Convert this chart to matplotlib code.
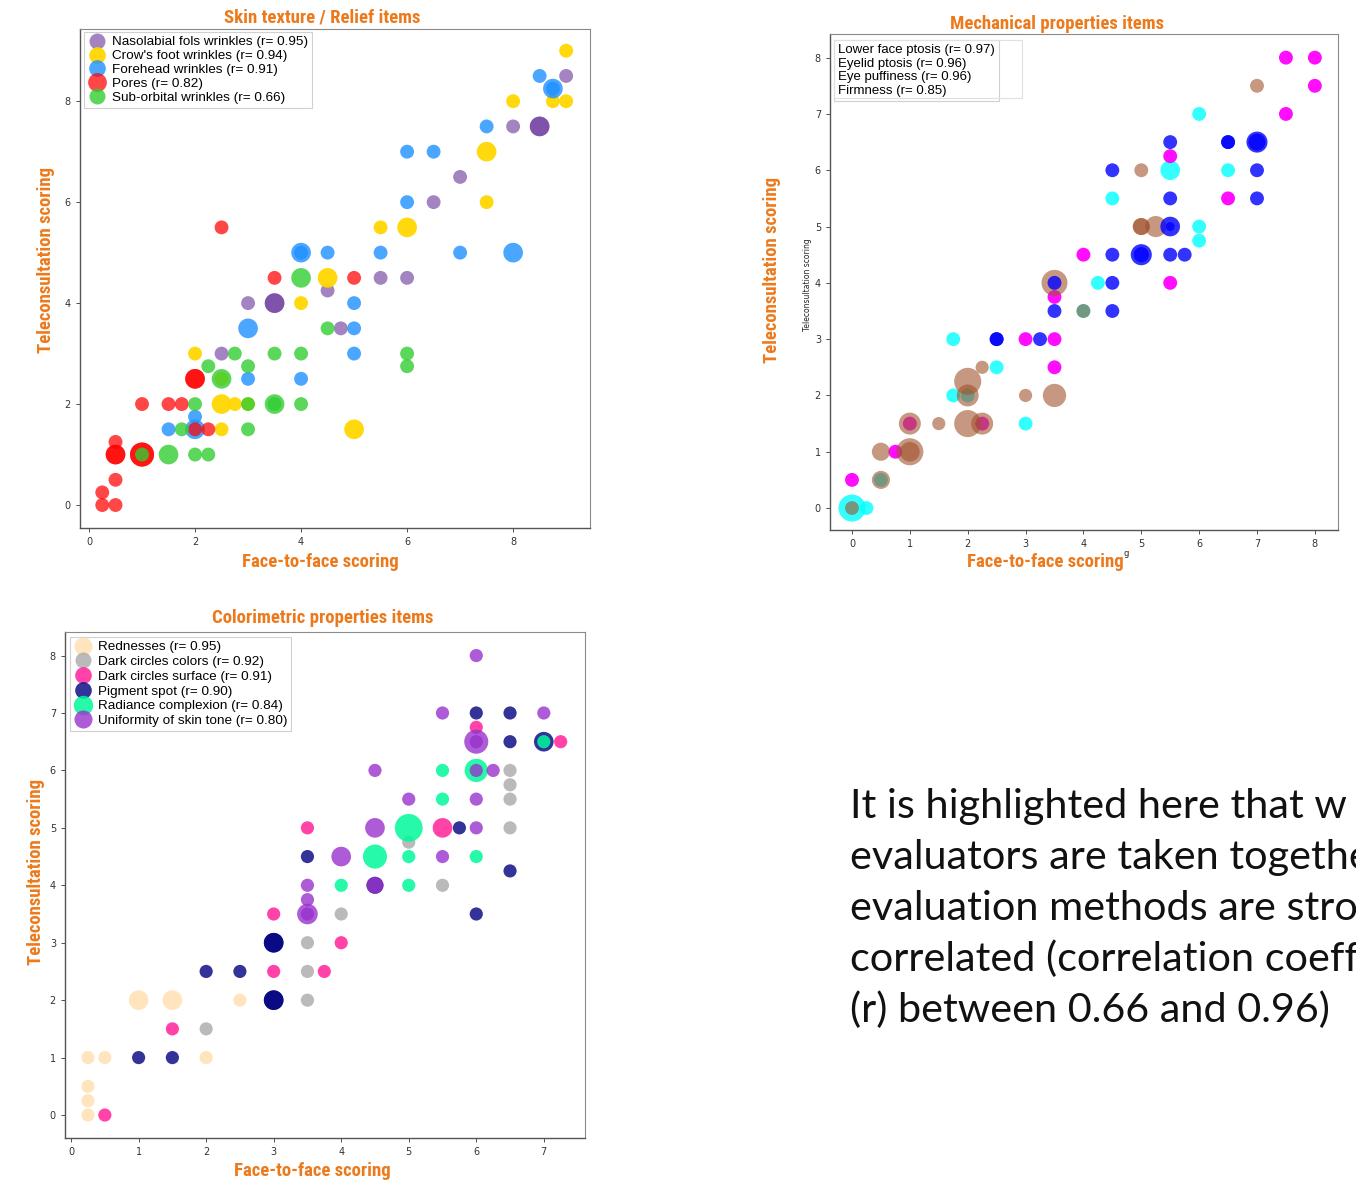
import matplotlib
matplotlib.use("Agg")
import matplotlib.pyplot as plt
from matplotlib.lines import Line2D
from matplotlib.patches import Rectangle

W, H = 1356, 1181
ORANGE = "#EC7A1C"
HEAD_FONT = ["Roboto Condensed", "Liberation Sans Narrow", "Roboto", "DejaVu Sans"]
LEG_FONT = ["Liberation Sans", "DejaVu Sans"]
SIDE_FONT = ["Lato", "Liberation Sans", "DejaVu Sans"]

# ---------------- Skin texture / Relief items ----------------
naso_x = [9, 8.5, 8.5, 8, 7, 6.5, 5.5, 6, 4.5, 3, 3.5, 3.5, 4.75, 2.5]
naso_y = [8.5, 7.5, 7.5, 7.5, 6.5, 6, 4.5, 4.5, 4.25, 4, 4, 4, 3.5, 3]
naso_s = [100, 200, 200, 100, 100, 100, 100, 100, 100, 100, 200, 200, 100, 100]

crow_x = [9, 8, 8.75, 9, 7.5, 7.5, 5.5, 6, 4.5, 4, 2, 2.5, 2.75, 3, 2.5, 2.5, 5]
crow_y = [9, 8, 8, 8, 7, 6, 5.5, 5.5, 4.5, 4, 3, 2, 2, 2, 2.5, 1.5, 1.5]
crow_s = [100, 100, 100, 100, 200, 100, 100, 200, 200, 100, 100, 200, 100, 100, 100, 100, 200]

fore_x = [8.5, 8.75, 8.75, 7.5, 6, 6.5, 6, 4, 4, 4.5, 5.5, 7, 8, 5, 3, 5, 5, 3, 4, 2, 2, 1.5]
fore_y = [8.5, 8.25, 8.25, 7.5, 7, 7, 6, 5, 5, 5, 5, 5, 5, 4, 3.5, 3.5, 3, 2.5, 2.5, 1.75, 1.5, 1.5]
fore_s = [100, 200, 100, 100, 100, 100, 100, 200, 100, 100, 100, 100, 200, 100, 200, 100, 100, 100, 100, 100, 200, 100]

pores_x = [2.5, 3.5, 5, 2, 2, 1, 1.5, 1.75, 2, 2.25, 0.5, 0.5, 0.5, 1, 1, 0.5, 0.25, 0.25, 0.5]
pores_y = [5.5, 4.5, 4.5, 2.5, 2.5, 2, 2, 2, 1.5, 1.5, 1.25, 1, 1, 1, 1, 0.5, 0.25, 0, 0]
pores_s = [100, 100, 100, 200, 200, 100, 100, 100, 100, 100, 100, 200, 200, 300, 300, 100, 100, 100, 100]

sub_x = [4, 4.5, 2.75, 3.5, 4, 6, 2.25, 3, 6, 2.5, 2, 3, 3.5, 3.5, 4, 1.75, 3, 1, 1.5, 2, 2.25]
sub_y = [4.5, 3.5, 3, 3, 3, 3, 2.75, 2.75, 2.75, 2.5, 2, 2, 2, 2, 2, 1.5, 1.5, 1, 1, 1, 1]
sub_s = [200, 100, 100, 100, 100, 100, 100, 100, 100, 200, 100, 100, 200, 100, 100, 100, 100, 100, 200, 100, 100]

skin_labels = ["Nasolabial fols wrinkles (r= 0.95)", "Crow's foot wrinkles (r= 0.94)",
               "Forehead wrinkles (r= 0.91)", "Pores (r= 0.82)", "Sub-orbital wrinkles (r= 0.66)"]

# ---------------- Mechanical properties items ----------------
cyan_x = [6, 5.5, 6.5, 4.5, 6, 6, 4.25, 4, 1.75, 2.5, 1.75, 2, 3, 0.5, 0, 0.25]
cyan_y = [7, 6, 6, 5.5, 5, 4.75, 4, 3.5, 3, 2.5, 2, 2, 1.5, 0.5, 0, 0]
cyan_s = [100, 200, 100, 100, 100, 100, 100, 100, 100, 100, 100, 100, 100, 100, 380, 100]

mag_x = [7.5, 8, 8, 7.5, 5.5, 6.5, 4, 5.5, 3.5, 3, 3.5, 3.5, 1, 2.25, 0.75, 0]
mag_y = [8, 8, 7.5, 7, 6.25, 5.5, 4.5, 4, 3.75, 3, 3, 2.5, 1.5, 1.5, 1, 0.5]
mag_s = [100] * 16

brown_x = [7, 5, 5, 5, 5.25, 3.5, 4, 2.25, 2, 2, 3, 3.5, 1, 1.5, 2, 2.25, 0.5, 1, 1, 0.5, 0]
brown_y = [7.5, 6, 5, 5, 5, 4, 3.5, 2.5, 2.25, 2, 2, 2, 1.5, 1.5, 1.5, 1.5, 1, 1, 1, 0.5, 0]
brown_s = [100, 100, 150, 150, 230, 350, 100, 90, 380, 250, 90, 280, 250, 90, 380, 250, 170, 380, 200, 170, 100]

blue_x = [5.5, 6.5, 6.5, 7, 7, 4.5, 7, 5.5, 7, 5.5, 5.5, 4.5, 5, 5, 5.5, 5.75, 3.5, 4.5, 3.5, 4.5, 2.5, 2.5, 3.25]
blue_y = [6.5, 6.5, 6.5, 6.5, 6.5, 6, 6, 5.5, 5.5, 5, 5, 4.5, 4.5, 4.5, 4.5, 4.5, 4, 4, 3.5, 3.5, 3, 3, 3]
blue_s = [100, 100, 100, 230, 150, 100, 100, 100, 100, 200, 40, 100, 230, 120, 100, 100, 100, 100, 100, 100, 100, 100, 100]

mech_labels = ["Lower face ptosis (r= 0.97)", "Eyelid ptosis (r= 0.96)",
               "Eye puffiness (r= 0.96)", "Firmness (r= 0.85)"]

# ---------------- Colorimetric properties items ----------------
red_x = [0.25, 0.25, 0.25, 0.25, 0.5, 2, 1, 1.5, 2.5]
red_y = [0, 0.25, 0.5, 1, 1, 1, 2, 2, 2]
red_s = [90, 90, 90, 90, 90, 90, 200, 200, 90]

grey_x = [6.5, 6.5, 6.5, 6.5, 5, 5.5, 4, 3.5, 3.5, 3.5, 2]
grey_y = [6, 5.75, 5.5, 5, 4.75, 4, 3.5, 3, 2.5, 2, 1.5]
grey_s = [90] * 11

pink_x = [6, 7.25, 5.5, 3.5, 3, 4, 3, 3.75, 1.5, 0.5]
pink_y = [6.75, 6.5, 5, 5, 3.5, 3, 2.5, 2.5, 1.5, 0]
pink_s = [90, 90, 200, 90, 90, 90, 90, 90, 90, 90]

navy_x = [6, 6.5, 6.5, 7, 5.75, 3.5, 6.5, 6, 3, 3, 3, 3, 2, 2.5, 1, 1.5, 4.5]
navy_y = [7, 7, 6.5, 6.5, 5, 4.5, 4.25, 3.5, 3, 3, 2, 2, 2.5, 2.5, 1, 1, 4]
navy_s = [90, 90, 90, 200, 90, 90, 90, 90, 200, 200, 200, 200, 90, 90, 90, 90, 150]

green_x = [7, 6, 5.5, 5.5, 5, 4.5, 5, 6, 4, 5]
green_y = [6.5, 6, 6, 5.5, 5, 4.5, 4.5, 4.5, 4, 4]
green_s = [90, 280, 90, 90, 400, 300, 90, 90, 90, 90]

purp_x = [6, 5.5, 7, 6, 6, 4.5, 6, 6.25, 5, 6, 4.5, 6, 4, 5.5, 3.5, 4.5, 3.5, 3.5, 3.5]
purp_y = [8, 7, 7, 6.5, 6.5, 6, 6, 6, 5.5, 5.5, 5, 5, 4.5, 4.5, 4, 4, 3.75, 3.5, 3.5]
purp_s = [90, 90, 90, 300, 90, 90, 90, 90, 90, 90, 200, 90, 200, 90, 90, 150, 90, 220, 90]

color_labels = ["Rednesses (r= 0.95)", "Dark circles colors (r= 0.92)", "Dark circles surface (r= 0.91)",
                "Pigment spot (r= 0.90)", "Radiance complexion (r= 0.84)", "Uniformity of skin tone (r= 0.80)"]

# side text, as far as it is visible in the slide
text_lines = ["It is highlighted here that w",
              "evaluators are taken togethe",
              "evaluation methods are stro",
              "correlated (correlation coeff",
              "(r) between 0.66 and 0.96)"]


def fx(x):
    return x / W


def fy(y):
    return 1 - y / H


def make_axes(left, right, top, bottom):
    ax = fig.add_axes([fx(left), fy(bottom), (right - left) / W, (bottom - top) / H])
    for side in ["left", "bottom"]:
        ax.spines[side].set_color("#555555")
        ax.spines[side].set_linewidth(1.0)
    for side in ["top", "right"]:
        ax.spines[side].set_color("#8a8a8a")
        ax.spines[side].set_linewidth(0.8)
    ax.tick_params(labelsize=7, colors="#333333", length=3, width=0.6)
    return ax


def head(x, y, s, rot=0):
    fig.text(fx(x), fy(y), s, color=ORANGE, fontsize=13.5, fontweight="bold",
             family=HEAD_FONT, ha="center", va="center", rotation=rot)


def legend(ax, labels, colors, alphas, ms, x, y, size, spacing):
    handles = [Line2D([], [], ls="none", marker="o", ms=m, mfc=c, mec="none", alpha=a)
               for c, a, m in zip(colors, alphas, ms)]
    leg = ax.legend(handles, labels, loc="upper left", bbox_to_anchor=(fx(x), fy(y)),
                    bbox_transform=fig.transFigure, borderaxespad=0, borderpad=0.3,
                    labelspacing=spacing, handlelength=1.3, handletextpad=0.45,
                    prop={"family": LEG_FONT, "size": size}, fancybox=False, framealpha=1)
    leg.get_frame().set_edgecolor("#d0d0d0")
    leg.get_frame().set_linewidth(0.8)
    return leg


fig = plt.figure(figsize=(W / 100, H / 100), dpi=100)

# panel 1
ax1 = make_axes(80, 590, 29, 528)
skin = [(naso_x, naso_y, naso_s, "#663399", 0.6),
        (crow_x, crow_y, crow_s, "#FFD700", 0.95),
        (fore_x, fore_y, fore_s, "#1E90FF", 0.8),
        (pores_x, pores_y, pores_s, "#FF0000", 0.72),
        (sub_x, sub_y, sub_s, "#32CD32", 0.8)]
for xs, ys, ss, c, a in skin:
    ax1.scatter(xs, ys, s=ss, color=c, alpha=a, linewidths=0)
ax1.set_xlim(-0.17, 9.45)
ax1.set_ylim(-0.455, 9.43)
ax1.set_xticks([0, 2, 4, 6, 8])
ax1.set_yticks([0, 2, 4, 6, 8])
legend(ax1, skin_labels, [t[3] for t in skin], [t[4] for t in skin],
       [11.5, 12, 12, 13.5, 11.5], 84, 32, 9.7, 0.1)
head(322, 17, "Skin texture / Relief items")
head(320, 562, "Face-to-face scoring")
head(46, 260, "Teleconsultation scoring", 90)

# panel 2
ax2 = make_axes(830, 1338, 34, 530)
mech = [(cyan_x, cyan_y, cyan_s, "#00FFFF", 0.8),
        (mag_x, mag_y, mag_s, "#FF00FF", 0.95),
        (brown_x, brown_y, brown_s, "#A0522D", 0.6),
        (blue_x, blue_y, blue_s, "#0000FF", 0.8)]
for xs, ys, ss, c, a in mech:
    ax2.scatter(xs, ys, s=ss, color=c, alpha=a, linewidths=0)
ax2.set_xlim(-0.38, 8.4)
ax2.set_ylim(-0.39, 8.42)
ax2.set_xticks(range(9))
ax2.set_yticks(range(9))
empty = [Line2D([], [], ls="none") for _ in mech_labels]
leg2 = ax2.legend(empty, mech_labels, loc="upper left", bbox_to_anchor=(fx(834), fy(40)),
                  bbox_transform=fig.transFigure, borderaxespad=0, borderpad=0.3,
                  labelspacing=0.1, handlelength=0, handletextpad=0,
                  prop={"family": LEG_FONT, "size": 9.5}, fancybox=False, framealpha=1)
leg2.get_frame().set_edgecolor("#d0d0d0")
leg2.get_frame().set_linewidth(0.8)
fig.patches.append(Rectangle((fx(834), fy(98)), (1022 - 834) / W, 58 / H, fill=False,
                             edgecolor="#e0e0e0", linewidth=0.8, transform=fig.transFigure))
head(1057, 24, "Mechanical properties items")
head(1045, 562, "Face-to-face scoring")
head(772, 270, "Teleconsultation scoring", 90)
fig.text(fx(808), fy(285), "Teleconsultation scoring", fontsize=5.5, rotation=90,
         ha="center", va="center", color="#222222")
fig.text(fx(1126), fy(554), "g", fontsize=6, ha="center", va="center", color="#222222")

# panel 3
ax3 = make_axes(65, 585, 632, 1138)
colorim = [(red_x, red_y, red_s, "#FFDEAD", 0.8),
           (grey_x, grey_y, grey_s, "#A9A9A9", 0.8),
           (pink_x, pink_y, pink_s, "#FF1493", 0.8),
           (navy_x, navy_y, navy_s, "#000080", 0.8),
           (green_x, green_y, green_s, "#00FA9A", 0.85),
           (purp_x, purp_y, purp_s, "#9932CC", 0.8)]
for xs, ys, ss, c, a in colorim:
    ax3.scatter(xs, ys, s=ss, color=c, alpha=a, linewidths=0)
ax3.set_xlim(-0.09, 7.61)
ax3.set_ylim(-0.40, 8.41)
ax3.set_xticks(range(8))
ax3.set_yticks(range(9))
legend(ax3, color_labels, [t[3] for t in colorim], [t[4] for t in colorim],
       [13, 11.5, 12, 12, 14, 13], 70, 637, 9.7, 0.17)
head(323, 618, "Colorimetric properties items")
head(312, 1171, "Face-to-face scoring")
head(36, 872, "Teleconsultation scoring", 90)

# side text
base = [818, 869, 920, 971, 1022]
for line, yb in zip(text_lines, base):
    fig.text(fx(850), fy(yb), line, fontsize=29.8, family=SIDE_FONT, fontweight="normal",
             color="#111111", ha="left", va="baseline")

fig.savefig("out.png", dpi=100)
